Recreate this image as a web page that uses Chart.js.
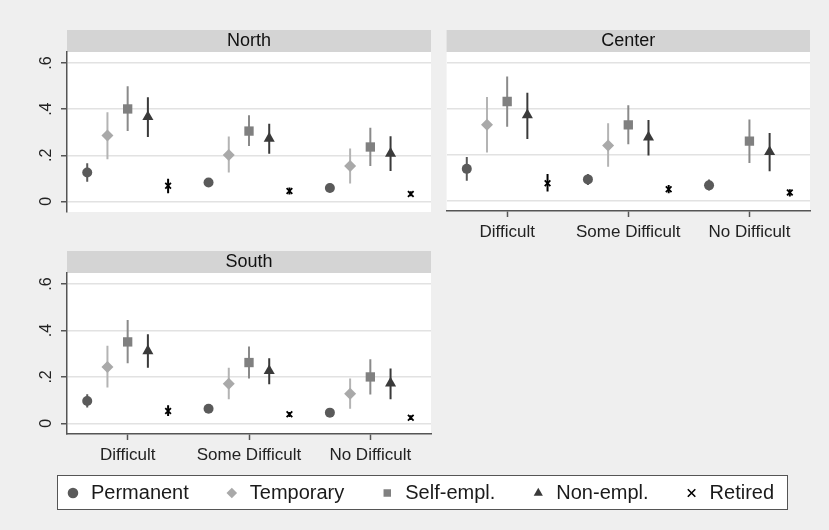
<!DOCTYPE html>
<html>
<head>
<meta charset="utf-8">
<script src="https://cdn.jsdelivr.net/npm/chart.js@4.4.1/dist/chart.umd.min.js"></script>
<style>
  body { margin: 0; background: #efefef; }
  #wrap { position: relative; width: 829px; height: 530px; background: #efefef; overflow: hidden; }
  #wrap canvas { position: absolute; }
  #legendFrame { position: absolute; left: 57px; top: 475px; width: 731px; height: 35px;
                 box-sizing: border-box; background: #fff; border: 1.5px solid #555; }
</style>
</head>
<body>
<div id="wrap">
  <canvas id="north" width="440" height="225" style="left:0;top:0"></canvas>
  <canvas id="center" width="389" height="250" style="left:440px;top:0"></canvas>
  <canvas id="south" width="440" height="232" style="left:0;top:240px"></canvas>
  <div id="legendFrame"></div>
  <canvas id="legend" width="829" height="150" style="left:5px;top:448px"></canvas>
</div>
<script>
// categories and series
const categories = ['Difficult', 'Some Difficult', 'No Difficult'];
const seriesNames = ['Permanent', 'Temporary', 'Self-empl.', 'Non-empl.', 'Retired'];
const yTicks = [0, 0.2, 0.4, 0.6];
const yTickLabels = ['0', '.2', '.4', '.6'];

// rows = series (Permanent, Temporary, Self-empl., Non-empl., Retired), cols = categories
const northEst = [[0.125, 0.082, 0.058], [0.286, 0.201, 0.154], [0.401, 0.305, 0.236], [0.367, 0.273, 0.208], [0.068, 0.045, 0.032]];
const northLo  = [[0.085, 0.070, 0.040], [0.183, 0.125, 0.078], [0.305, 0.240, 0.154], [0.279, 0.207, 0.132], [0.035, 0.030, 0.022]];
const northHi  = [[0.165, 0.096, 0.076], [0.387, 0.281, 0.229], [0.499, 0.374, 0.319], [0.452, 0.337, 0.283], [0.098, 0.060, 0.044]];

const centerEst = [[0.138, 0.092, 0.066], [0.331, 0.240, null], [0.432, 0.330, 0.259], [0.373, 0.276, 0.212], [0.075, 0.049, 0.035]];
const centerLo  = [[0.086, 0.068, 0.043], [0.209, 0.147, null], [0.322, 0.245, 0.164], [0.268, 0.196, 0.127], [0.039, 0.032, 0.017]];
const centerHi  = [[0.190, 0.115, 0.092], [0.452, 0.337, null], [0.541, 0.416, 0.353], [0.470, 0.351, 0.294], [0.115, 0.068, 0.049]];

const southEst = [[0.096, 0.063, 0.046], [0.243, 0.171, 0.128], [0.351, 0.262, 0.200], [0.312, 0.226, 0.173], [0.053, 0.039, 0.024]];
const southLo  = [[0.068, 0.049, 0.032], [0.154, 0.104, 0.063], [0.259, 0.193, 0.124], [0.240, 0.168, 0.104], [0.032, 0.027, 0.014]];
const southHi  = [[0.125, 0.075, 0.058], [0.334, 0.240, 0.193], [0.445, 0.331, 0.276], [0.384, 0.281, 0.236], [0.078, 0.049, 0.035]];

// styling
const FONT = "'Liberation Sans', Arial, sans-serif";
const markerStyles = ['circle', 'rectRot', 'rect', 'triangle', 'crossRot'];
const markerColors = ['#5a5a5a', '#a9a9a9', '#808080', '#3a3a3a', '#000000'];
const barColors = ['#5a5a5a', '#b4b4b4', '#8a8a8a', '#3a3a3a', '#000000'];
const markerSizes = [5, 6, 6.6, 6.4, 4];
const yMin = -0.046, yMax = 0.648;

// white plot region + grey strip behind the panel title
const panelPlugin = {
  id: 'panelPlugin',
  beforeDraw(chart) {
    const ctx = chart.ctx;
    const a = chart.chartArea;
    const t = chart.titleBlock;
    ctx.save();
    ctx.fillStyle = '#ffffff';
    ctx.fillRect(a.left, a.top, a.right - a.left, a.bottom - a.top);
    if (t) {
      ctx.fillStyle = '#d4d4d4';
      ctx.fillRect(a.left, t.top, a.right - a.left, t.bottom - t.top);
    }
    ctx.restore();
  }
};

function makeDatasets(est, lo, hi) {
  const sets = [];
  seriesNames.forEach((name, s) => {
    const off = (s - 2) / 6;
    const bars = [];
    categories.forEach((c, i) => {
      const x = i + 1 + off;
      bars.push({x: x, y: lo[s][i]}, {x: x, y: hi[s][i]}, {x: x, y: null});
    });
    sets.push({
      label: name,
      data: categories.map((c, i) => ({x: i + 1 + off, y: est[s][i]})),
      pointStyle: markerStyles[s],
      pointRadius: markerSizes[s],
      backgroundColor: markerColors[s],
      borderColor: markerColors[s],
      pointBorderWidth: s === 4 ? 1.8 : 0,
      order: 1
    });
    sets.push({
      data: bars,
      showLine: true,
      borderColor: barColors[s],
      borderWidth: 2,
      pointRadius: 0,
      order: 2
    });
  });
  return sets;
}

function yAxis(showLabels) {
  return {
    min: yMin,
    max: yMax,
    afterBuildTicks: s => { s.ticks = yTicks.map(v => ({value: v})); },
    ticks: {
      display: showLabels,
      callback: v => yTickLabels[yTicks.indexOf(v)],
      minRotation: 90,
      maxRotation: 90,
      crossAlign: 'center',
      padding: 8,
      color: '#222',
      font: {family: FONT, size: 16}
    },
    grid: { color: '#e2e2e2', lineWidth: 1.5, drawTicks: showLabels, tickLength: 6, tickColor: '#555', tickWidth: 1.5 },
    border: { display: showLabels, color: '#555', width: 1.5 },
    afterFit: s => { s.width = showLabels ? 67 : 0; s.paddingTop = 0; s.paddingBottom = 0; }
  };
}

function xAxis(showLabels) {
  return {
    type: 'linear',
    min: 0.5,
    max: 3.5,
    display: showLabels,
    afterBuildTicks: s => { s.ticks = categories.map((c, i) => ({value: i + 1})); },
    ticks: {
      callback: v => categories[v - 1],
      autoSkip: false,
      maxRotation: 0,
      padding: 5,
      color: '#222',
      font: {family: FONT, size: 17}
    },
    grid: { drawOnChartArea: false, tickLength: 6, tickColor: '#555', tickWidth: 1.5 },
    border: { color: '#555', width: 1.5 },
    afterFit: s => { s.height = showLabels ? 35 : 0; s.paddingLeft = 0; s.paddingRight = 0; }
  };
}

function drawPanel(id, title, est, lo, hi, showY, showX, padding) {
  new Chart(id, {
    type: 'scatter',
    data: { datasets: makeDatasets(est, lo, hi) },
    options: {
      responsive: false,
      animation: false,
      events: [],
      layout: { padding: padding },
      scales: { x: xAxis(showX), y: yAxis(showY) },
      plugins: {
        legend: { display: false },
        tooltip: { enabled: false },
        title: {
          display: true,
          text: title,
          fullSize: false,
          padding: 0,
          color: '#111',
          font: {family: FONT, size: 18, weight: 'normal', lineHeight: '22px'}
        }
      }
    },
    plugins: [panelPlugin]
  });
}

drawPanel('north', 'North', northEst, northLo, northHi, true, false, {left: 0, right: 9, top: 30, bottom: 13});
drawPanel('center', 'Center', centerEst, centerLo, centerHi, false, true, {left: 6, right: 19, top: 30, bottom: 4});
drawPanel('south', 'South', southEst, southLo, southHi, true, true, {left: 0, right: 9, top: 11, bottom: 3});

// shared legend
new Chart('legend', {
  type: 'scatter',
  data: {
    datasets: seriesNames.map((name, s) => ({
      label: name,
      data: [],
      pointStyle: markerStyles[s],
      backgroundColor: markerColors[s],
      borderColor: markerColors[s],
      borderWidth: s === 4 ? 1.6 : 0
    }))
  },
  options: {
    responsive: false,
    animation: false,
    events: [],
    scales: { x: {display: false}, y: {display: false} },
    plugins: {
      tooltip: { enabled: false },
      legend: {
        labels: {
          usePointStyle: true,
          boxWidth: 16,
          boxHeight: 7.5,
          padding: 35,
          color: '#1a1a1a',
          font: {family: FONT, size: 20}
        }
      }
    }
  }
});
</script>
</body>
</html>
